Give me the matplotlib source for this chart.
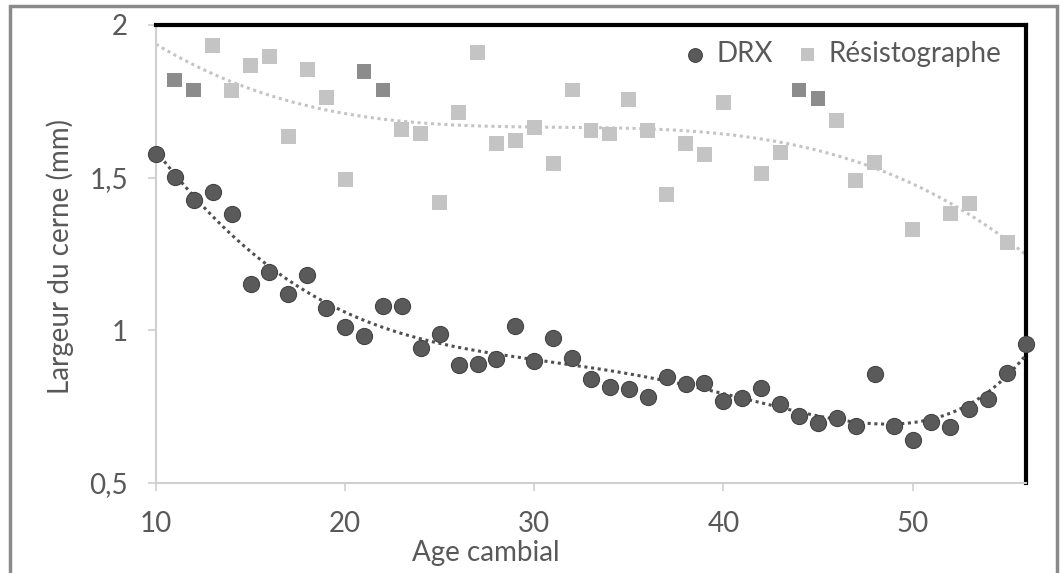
import numpy as np
import matplotlib
matplotlib.use("Agg")
import matplotlib.pyplot as plt
from matplotlib.patches import Rectangle

plt.rcParams["font.family"] = ["Lato", "DejaVu Sans"]

# DRX (circles)
drx_age = [10, 11, 12, 13, 14, 15, 16, 17, 18, 19, 20, 21, 22, 23, 24, 25,
           26, 27, 28, 29, 30, 31, 32, 33, 34, 35, 36, 37, 38, 39, 40, 41,
           42, 43, 44, 45, 46, 47, 48, 49, 50, 51, 52, 53, 54, 55, 56]
drx_val = [1.576, 1.503, 1.427, 1.453, 1.381, 1.151, 1.192, 1.119, 1.181, 1.073,
           1.012, 0.981, 1.081, 1.081, 0.943, 0.987, 0.886, 0.890, 0.905, 1.015,
           0.900, 0.976, 0.910, 0.840, 0.815, 0.808, 0.783, 0.846, 0.824, 0.828,
           0.768, 0.777, 0.810, 0.759, 0.720, 0.697, 0.712, 0.687, 0.856, 0.687,
           0.641, 0.699, 0.682, 0.744, 0.775, 0.859, 0.954]

# Résistographe (squares)
res_age = [11, 12, 13, 14, 15, 16, 17, 18, 19, 20, 21, 22, 23, 24, 25, 26, 27,
           28, 29, 30, 31, 32, 33, 34, 35, 36, 37, 38, 39, 40, 42, 43, 44, 45,
           46, 47, 48, 50, 52, 53, 55]
res_val = [1.820, 1.787, 1.934, 1.785, 1.866, 1.898, 1.636, 1.853, 1.762, 1.495,
           1.847, 1.787, 1.658, 1.645, 1.418, 1.714, 1.911, 1.612, 1.621, 1.665,
           1.545, 1.787, 1.653, 1.643, 1.757, 1.653, 1.446, 1.612, 1.576, 1.747,
           1.514, 1.582, 1.787, 1.760, 1.687, 1.492, 1.549, 1.331, 1.383, 1.416,
           1.287]
res_dark = [11, 12, 21, 22, 44, 45]  # squares that print darker in the scan

y_ticks = [0.5, 1, 1.5, 2]
y_labels = ["0,5", "1", "1,5", "2"]
x_ticks = [10, 20, 30, 40, 50]

fig = plt.figure(figsize=(10.62, 5.73), dpi=100)
ax = fig.add_axes([0.1469, 0.157, 0.8192, 0.7994])

# polynomial trend lines (Excel style)
xs = np.linspace(10, 56, 300)
p_res = np.polyfit(res_age, res_val, 3)
ax.plot(xs, np.polyval(p_res, xs), ls=(0, (1, 1.2)), lw=2.2, color="#C4C4C4", zorder=2)
p_drx = np.polyfit(drx_age, drx_val, 5)
ax.plot(xs, np.polyval(p_drx, xs), ls=(0, (1, 1.2)), lw=2.2, color="#505050", zorder=4)

res_col = ["#8C8C8C" if a in res_dark else "#C4C4C4" for a in res_age]
ax.scatter(res_age, res_val, marker="s", s=115, c=res_col, edgecolors="none",
           zorder=3, label="Résistographe")
ax.scatter(drx_age, drx_val, marker="o", s=135, color="#5A5A5A", edgecolors="#444444",
           linewidths=0.8, zorder=5, label="DRX", clip_on=False)

ax.set_xlim(10, 56)
ax.set_ylim(0.5, 2)
ax.set_xticks(x_ticks)
ax.set_yticks(y_ticks)
ax.set_yticklabels(y_labels)
ax.tick_params(axis="both", colors="#D0D0D0", labelcolor="#595959", labelsize=20,
               length=6, width=1.2, direction="out")
ax.tick_params(axis="y", pad=14)
ax.tick_params(axis="x", pad=14)

for s in ["left", "bottom"]:
    ax.spines[s].set_color("#D0D0D0")
    ax.spines[s].set_linewidth(1.5)
for s in ["top", "right"]:
    ax.spines[s].set_color("black")
    ax.spines[s].set_linewidth(3)

ax.set_xlabel("Age cambial", fontsize=20, color="#595959", va="center")
ax.xaxis.set_label_coords(0.379, -0.153)
ax.set_ylabel("Largeur du cerne (mm)", fontsize=20, color="#595959", va="center")
ax.yaxis.set_label_coords(-0.110, 0.494)

h, l = ax.get_legend_handles_labels()
leg = ax.legend(h[::-1], l[::-1], loc="upper right", ncol=2, frameon=False,
                fontsize=20, handlelength=0.7, handletextpad=0.4, columnspacing=0.9,
                markerscale=0.85, bbox_to_anchor=(1.0, 1.02), labelcolor="#595959")
leg.legend_handles[1].set_facecolor("#C4C4C4")

# outer frame of the scanned figure
fig.patches.append(Rectangle((10 / 1062, -0.05), 1047 / 1062, 1 - 6 / 573 + 0.05,
                             transform=fig.transFigure, fill=False,
                             edgecolor="#8A8A8A", lw=2.5))

fig.savefig("out.png", dpi=100)
